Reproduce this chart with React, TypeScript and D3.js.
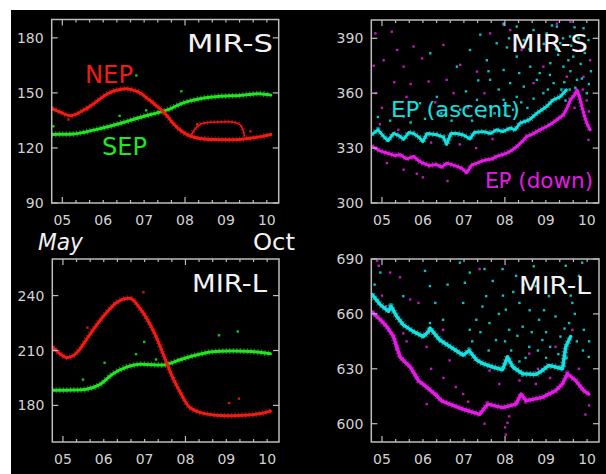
import React from 'react';
import * as d3 from 'd3';

// ---------- data (x = month number, y = value) ----------
const monthTicks = [5, 6, 7, 8, 9, 10];
const monthLabels = ['05', '06', '07', '08', '09', '10'];
const majorMonthTicks = [5, 8];

const yTicksTL = [90, 120, 150, 180];
const yTicksTR = [300, 330, 360, 390];
const yTicksBL = [180, 210, 240];
const yTicksBR = [600, 630, 660, 690];

const nepS: [number, number][] = [[4.74,141.5],[4.95,139.5],[5.1,138],[5.23,137.6],[5.35,138.5],[5.47,140],[5.68,142.7],[5.92,146.7],[6.1,149.5],[6.3,151.3],[6.57,152.3],[6.81,151],[6.95,149.3],[7.06,147.3],[7.18,145.3],[7.3,143],[7.46,140],[7.58,137],[7.7,133.6],[7.91,129.2],[8.11,126.6],[8.36,125.2],[8.76,124.6],[9.33,124.6],[9.66,125.5],[9.9,126.3],[10.1,127.3]];
const nepSLoop: [number, number][] = [[8.15,127],[8.25,130.5],[8.38,133],[8.6,134],[8.9,134.2],[9.2,134],[9.35,132.5],[9.42,129.5],[9.45,126.5]];
const sepS: [number, number][] = [[4.74,127.3],[5.0,127.5],[5.27,127.6],[5.5,128.4],[5.68,129.3],[5.9,130.4],[6.16,131.8],[6.45,133.6],[6.73,135.5],[7.0,137.3],[7.3,139],[7.55,140.6],[7.7,142],[7.87,143.8],[8.1,145.5],[8.36,146.8],[8.6,147.6],[8.85,148.2],[9.1,148.4],[9.33,148.6],[9.55,149.1],[9.82,149.6],[10.1,148.8]];
const nepSDots: [number, number][] = [[5.15,135.5],[8.3,133],[9.6,129],[5.6,141]];
const sepSDots: [number, number][] = [[6.81,159.5],[7.91,150.9],[4.78,131.8],[6.4,137.5],[7.05,140.5]];

const nepL: [number, number][] = [[4.74,212],[4.92,208.4],[5.08,206.2],[5.24,207],[5.4,210.3],[5.57,215.8],[5.81,223.5],[6.06,230.5],[6.3,236],[6.5,238.2],[6.67,238.3],[6.87,233.5],[7.07,226.8],[7.28,217.6],[7.48,206.6],[7.68,195.6],[7.89,186.4],[8.09,179.2],[8.33,176.3],[8.74,174.6],[9.31,174.5],[9.8,175.4],[10.08,176.9]];
const sepL: [number, number][] = [[4.74,188.3],[5.24,188.4],[5.57,188.8],[5.89,191.2],[6.22,197.2],[6.54,200.8],[6.87,202.5],[7.2,202.2],[7.52,202.2],[7.85,204.8],[8.17,207],[8.66,209.3],[9.15,209.7],[9.63,209.4],[10.08,208.2]];
const nepLDots: [number, number][] = [[6.97,241.8],[9.07,181.3],[9.31,183.7],[5.6,222.5]];
const sepLDots: [number, number][] = [[6.02,203.3],[6.99,214.7],[6.79,208],[8.82,218.3],[9.28,220.4],[5.49,194.1],[7.28,205.1]];

const ascS: [number, number][] = [[4.76,337.5],[4.9,340],[5.04,336.4],[5.15,334],[5.28,338],[5.4,337],[5.53,334.8],[5.65,338.5],[5.77,338],[5.9,336],[6.0,333.5],[6.1,338],[6.34,337.3],[6.5,336],[6.58,332],[6.68,338],[6.83,338],[7.0,337],[7.15,335],[7.25,338.5],[7.48,339],[7.65,338],[7.8,340],[7.95,339],[8.13,341],[8.25,340],[8.37,343.6],[8.6,345.5],[8.78,349],[9.02,352.7],[9.18,356.4],[9.35,358],[9.5,361.8]];
const downS: [number, number][] = [[4.76,331],[4.95,328.5],[5.12,327.3],[5.3,326],[5.45,326.4],[5.6,324],[5.77,325.5],[5.9,323],[6.0,321.8],[6.15,320.5],[6.34,321],[6.45,319.5],[6.58,321.8],[6.7,321],[6.83,320],[6.95,319],[7.07,316.5],[7.18,320.5],[7.32,321.8],[7.45,323],[7.56,323.6],[7.68,324],[7.8,325.5],[7.95,326.5],[8.05,327.3],[8.18,329],[8.3,331],[8.42,333.5],[8.54,336.4],[8.66,337.5],[8.78,339],[8.9,340.5],[9.02,341.8],[9.15,343.5],[9.27,345.5],[9.43,348.2],[9.52,352],[9.6,356.4],[9.7,359],[9.76,361.8],[9.82,358],[9.88,352.7],[9.95,347],[10.0,343.6],[10.08,340]];
const ascSDots: [number, number][] = [[6.18,381.8],[6.83,374.5],[7.15,383.6],[7.56,378],[7.64,367.3],[7.8,387.3],[7.97,372.7],[8.13,365.5],[8.29,380],[8.46,389],[8.62,374.5],[8.78,367.3],[8.86,383.6],[9.02,392.7],[9.11,376.4],[9.19,365.5],[9.35,387.3],[9.43,374.5],[9.59,391],[9.67,380],[9.76,367.3],[9.27,396.4],[9.92,395.5],[10.04,389],[10.0,360],[7.97,398],[8.29,396.4],[8.7,394.5],[6.91,351],[7.32,356.4],[7.64,352.7],[7.97,356.4],[8.29,358],[6.34,358],[5.93,354.5],[5.53,347.3],[8.46,363.6],[8.94,360],[7.8,309],[9.45,366],[9.6,372],[9.85,376],[8.05,385],[7.4,392],[9.3,381],[8.55,352],[9.05,362],
  [7.2,345],[7.5,347],[7.75,349],[8.0,348],[8.2,351],[8.4,355],[8.7,357],[8.85,371],[9.1,370],[9.25,384],[9.38,362],[9.55,378],[9.62,386],[9.7,396],[9.8,390],[9.95,382],[10.1,372],[8.1,390],[8.35,371],[8.6,384],[8.95,387],[9.15,397],[7.85,362],[7.6,372],[7.35,367],[7.05,361],[6.7,345],[6.45,349],[6.05,346],[5.7,344],[5.2,345],[4.9,347],[9.48,356],[9.72,363],[9.88,368],[10.05,365],[9.58,362],[9.42,390]];
const downSDots: [number, number][] = [[4.84,392.7],[5.24,393.6],[5.37,383.6],[5.04,378],[5.53,374.5],[5.77,385.5],[5.98,379],[6.14,366.4],[6.5,386.4],[6.58,367.3],[6.91,375.5],[7.32,371.8],[7.64,392.7],[7.97,397.3],[8.13,394.5],[8.41,383.6],[8.7,365.5],[8.94,374.5],[9.27,398],[9.6,399],[9.84,383.6],[10.08,378],[5.12,321.8],[5.53,318.2],[7.64,312.7],[8.05,311],[9.92,369],[10.0,356],[10.04,334.5],[9.51,369],[4.8,375],[5.7,365],
  [4.85,360],[5.0,352],[5.3,366],[5.6,358],[6.3,355],[6.75,360],[7.1,352],[7.5,360],[4.95,343],[5.4,340],[6.2,333],[6.9,332],[7.3,330],[7.7,335],[9.7,352],[9.9,362],[10.05,350],[6.6,312],[6.0,314],[5.85,316]];

const ascL: [number, number][] = [[4.76,670.5],[4.96,665],[5.16,661.4],[5.22,664.2],[5.36,658.6],[5.52,654],[5.77,650.3],[6.01,647.6],[6.13,650.3],[6.17,652.2],[6.41,645.7],[6.73,641.1],[6.98,637.4],[7.12,640],[7.3,635],[7.46,632.8],[7.7,631],[7.94,629.5],[8.06,636.5],[8.19,631],[8.43,627.3],[8.75,626.9],[8.91,629.1],[9.07,631.9],[9.23,631],[9.4,630],[9.48,642],[9.6,647.6]];
const downL: [number, number][] = [[4.76,661],[4.96,656.8],[5.12,653],[5.28,647.6],[5.44,636.5],[5.55,634],[5.69,631],[5.89,623.6],[6.09,620],[6.29,616.2],[6.45,612.5],[6.65,610.7],[6.98,607.9],[7.38,605.1],[7.58,610.7],[7.94,608.8],[8.27,610.7],[8.39,616.2],[8.51,612.5],[8.91,614.4],[9.23,618],[9.4,621.7],[9.52,627.3],[9.72,623.6],[9.92,618],[10.04,616.2]];
const ascLDots: [number, number][] = [[4.96,682.6],[5.52,669.7],[6.05,683.5],[6.17,675.2],[6.49,656.8],[6.9,688],[7.02,677],[6.98,666],[7.14,651.3],[7.3,656.8],[7.5,684.5],[7.54,669.7],[7.62,655],[7.78,645.7],[7.94,684.5],[8.02,662.3],[8.1,651.3],[8.27,680.8],[8.35,666],[8.43,653],[8.59,642],[8.75,675.2],[8.83,656.8],[8.91,645.7],[9.07,669.7],[9.23,658.6],[9.35,647.6],[9.48,686.3],[9.56,655],[9.64,666],[9.8,680.8],[9.88,688],[10.04,636.5],[9.92,651.3],[7.14,682.6],[6.17,655],[4.82,676],[8.6,662],[9.0,650],[9.7,660],[8.2,672],[7.7,678],
  [7.2,645],[7.4,650],[7.6,640],[7.85,660],[8.0,645],[8.15,640],[8.3,648],[8.5,636],[8.65,650],[8.8,640],[8.95,662],[9.1,642],[9.3,638],[9.45,652],[9.6,670],[9.75,645],[9.9,640],[10.05,645],[9.15,680],[8.7,686],[8.45,676],[7.95,670],[7.45,664],[6.6,676],[6.3,666],[9.5,636],[9.0,636],[8.35,634]];
const downLDots: [number, number][] = [[4.88,689],[5.2,682.6],[5.44,680],[5.69,667.9],[5.52,649.4],[5.89,666],[6.09,642],[6.49,651.3],[6.65,634.6],[6.98,616.2],[7.38,684.5],[7.62,629],[7.86,621.7],[8.02,594],[8.06,600.5],[8.35,623.6],[8.59,638.3],[8.75,621.7],[9.23,642],[9.64,651.3],[9.96,605],[6.09,610.7],[6.33,616.2],[5.28,662.3],[4.92,686.3],[9.92,671.5],
  [5.0,670],[5.1,664],[5.35,641],[5.6,645],[6.2,630],[6.5,625],[6.8,620],[7.1,612],[7.5,600],[8.0,598],[8.1,604],[8.8,630],[9.1,625],[9.45,632],[9.8,630],[10.05,610]];

// ---------- styling ----------
const RED = '#f01c14';
const GREEN = '#22e622';
const CYAN = '#14e0e0';
const MAGENTA = '#e21ce2';
const FRAME = '#bdbdbd';
const TICKTXT = '#d2d2d2';
const FONT = '"DejaVu Sans", sans-serif';

type Pt = [number, number];
type Series = { data: Pt[]; color: string; width: number; curve?: any; dots?: boolean; dotColor?: string };

interface PanelProps {
  id: string;
  x0: number; x1: number; y0: number; y1: number;
  yDomain: [number, number];
  yTicks: number[];
  series: Series[];
}

function Panel({ id, x0, x1, y0, y1, yDomain, yTicks, series }: PanelProps) {
  const x = d3.scaleLinear().domain([4.74, 10.29]).range([x0, x1]);
  const y = d3.scaleLinear().domain(yDomain).range([y1, y0]);
  const minor = d3.range(5, 10.3, 1 / 3);
  return (
    <g>
      <defs>
        <clipPath id={id}>
          <rect x={x0} y={y0} width={x1 - x0} height={y1 - y0} />
        </clipPath>
      </defs>
      <g clipPath={`url(#${id})`}>
        {series.map((s, i) => {
          if (s.dots) {
            return (
              <g key={i} fill={s.color} opacity={0.85}>
                {s.data.map((d, j) => (
                  <rect key={j} x={x(d[0]) - 1.2} y={y(d[1]) - 1.2} width={2.4} height={2.4} />
                ))}
              </g>
            );
          }
          const line = d3.line<Pt>().x(d => x(d[0])).y(d => y(d[1])).curve(s.curve || d3.curveLinear);
          const dstr = line(s.data) || '';
          return (
            <g key={i}>
              <path d={dstr} fill="none" stroke={s.color} strokeWidth={s.width + 3} strokeOpacity={0.55}
                strokeDasharray="1.2 2.3" strokeLinejoin="round" />
              <path d={dstr} fill="none" stroke={s.color} strokeWidth={s.width}
                strokeLinejoin="round" strokeLinecap="round" />
            </g>
          );
        })}
      </g>
      {/* frame */}
      <rect x={x0} y={y0} width={x1 - x0} height={y1 - y0} fill="none" stroke={FRAME} strokeWidth={1.5} />
      {/* x ticks */}
      {minor.map((m, i) => {
        const big = majorMonthTicks.some(v => Math.abs(v - m) < 1e-6);
        const len = big ? 6 : 3;
        return (
          <g key={i} stroke={FRAME} strokeWidth={1.2}>
            <line x1={x(m)} x2={x(m)} y1={y1} y2={y1 - len} />
            <line x1={x(m)} x2={x(m)} y1={y0} y2={y0 + len} />
          </g>
        );
      })}
      {monthTicks.map((m, i) => (
        <text key={i} x={x(m)} y={y1 + 22} fill={TICKTXT} fontFamily={FONT} fontSize={14} textAnchor="middle">
          {monthLabels[i]}
        </text>
      ))}
      {/* y ticks */}
      {yTicks.map((v, i) => (
        <g key={i}>
          <line x1={x0} x2={x0 + 6} y1={y(v)} y2={y(v)} stroke={FRAME} strokeWidth={1.2} />
          <line x1={x1} x2={x1 - 6} y1={y(v)} y2={y(v)} stroke={FRAME} strokeWidth={1.2} />
          <text x={x0 - 8} y={y(v) + 5} fill={TICKTXT} fontFamily={FONT} fontSize={14} textAnchor="end">{v}</text>
        </g>
      ))}
    </g>
  );
}

export default function App() {
  const smooth = d3.curveCatmullRom;
  return (
    <svg width={606} height={474} style={{ position: 'absolute', left: 0, top: 0, display: 'block' }}>
      <rect x={0} y={0} width={606} height={474} fill="#fff" />
      <rect x={11} y={10} width={595} height={464} fill="#000" />

      <Panel id="cTL" x0={51.7} x1={278.7} y0={19.5} y1={203} yDomain={[90, 190]} yTicks={yTicksTL}
        series={[
          { data: sepS, color: GREEN, width: 3, curve: smooth },
          { data: sepSDots, color: GREEN, width: 0, dots: true },
          { data: nepS, color: RED, width: 3, curve: smooth },
          { data: nepSLoop, color: RED, width: 1.5, curve: smooth },
          { data: nepSDots, color: RED, width: 0, dots: true },
        ]} />
      <Panel id="cTR" x0={371.3} x1={598.7} y0={20} y1={203} yDomain={[300, 400]} yTicks={yTicksTR}
        series={[
          { data: downSDots, color: MAGENTA, width: 0, dots: true },
          { data: ascSDots, color: CYAN, width: 0, dots: true },
          { data: downS, color: MAGENTA, width: 3 },
          { data: ascS, color: CYAN, width: 3 },
        ]} />
      <Panel id="cBL" x0={52.3} x1={279} y0={259} y1={442} yDomain={[160, 260]} yTicks={yTicksBL}
        series={[
          { data: sepL, color: GREEN, width: 3, curve: smooth },
          { data: sepLDots, color: GREEN, width: 0, dots: true },
          { data: nepL, color: RED, width: 3, curve: smooth },
          { data: nepLDots, color: RED, width: 0, dots: true },
        ]} />
      <Panel id="cBR" x0={371.3} x1={599} y0={259} y1={442} yDomain={[590, 690]} yTicks={yTicksBR}
        series={[
          { data: downLDots, color: MAGENTA, width: 0, dots: true },
          { data: ascLDots, color: CYAN, width: 0, dots: true },
          { data: downL, color: MAGENTA, width: 3.5 },
          { data: ascL, color: CYAN, width: 3.5 },
        ]} />

      {/* annotations */}
      <g fontFamily={FONT} fontSize={25}>
        <text x={187} y={52} fill="#f2f2f2" textLength={86} lengthAdjust="spacingAndGlyphs">MIR-S</text>
        <text x={511} y={52} fill="#f2f2f2" textLength={77} lengthAdjust="spacingAndGlyphs">MIR-S</text>
        <text x={192} y={292} fill="#f2f2f2" textLength={75} lengthAdjust="spacingAndGlyphs">MIR-L</text>
        <text x={519} y={294} fill="#f2f2f2" textLength={72} lengthAdjust="spacingAndGlyphs">MIR-L</text>
        <text x={85} y={83} fill={RED} textLength={48} lengthAdjust="spacingAndGlyphs">NEP</text>
        <text x={102} y={155} fill={GREEN} textLength={45} lengthAdjust="spacingAndGlyphs">SEP</text>
        <text x={38} y={250} fill="#f2f2f2" fontStyle="italic" fontSize={23} textLength={45} lengthAdjust="spacingAndGlyphs">May</text>
        <text x={253} y={250} fill="#f2f2f2" fontSize={23} textLength={42} lengthAdjust="spacingAndGlyphs">Oct</text>
      </g>
      <g fontFamily={FONT} fontSize={21}>
        <text x={391} y={117} fill={CYAN} textLength={129} lengthAdjust="spacingAndGlyphs">EP (ascent)</text>
        <text x={485} y={188} fill={MAGENTA} textLength={108} lengthAdjust="spacingAndGlyphs">EP (down)</text>
      </g>
    </svg>
  );
}
